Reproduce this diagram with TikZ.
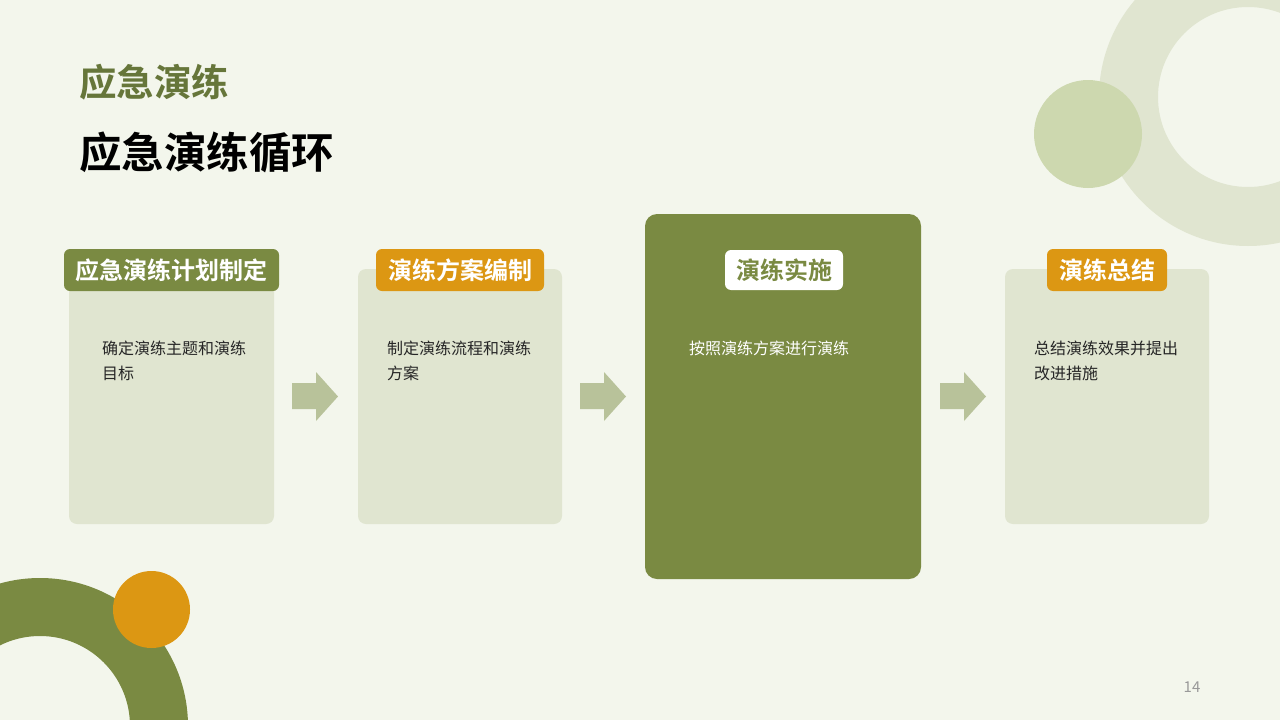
\documentclass[tikz,border=0pt]{standalone}
\usepackage{fontspec}
\setmainfont{Noto Sans CJK SC}[BoldFont={Noto Sans CJK SC Bold}]
\definecolor{bgc}{HTML}{F3F6EC}
\definecolor{cardc}{HTML}{E0E5D0}
\definecolor{olive}{HTML}{7A8A42}
\definecolor{orng}{HTML}{DC9713}
\definecolor{arrc}{HTML}{B8C29A}
\definecolor{dotc}{HTML}{CDD8AF}
\definecolor{titc}{HTML}{66763A}
\definecolor{txtc}{HTML}{262626}
\tikzset{
  card/.style={fill=cardc, rounded corners=8pt},
  tabbox/.style={rounded corners=6pt},
  tabtext/.style={font=\fontsize{24}{27}\selectfont\bfseries, text=white, inner sep=0pt},
  bodytext/.style={font=\fontsize{16}{25}\selectfont, text=txtc, align=left, anchor=north west, inner sep=0pt},
  arrowshape/.style={fill=arrc}
}
\begin{document}
\begin{tikzpicture}[x=1pt,y=-1pt]
\fill[bgc] (0,0) rectangle (1280,720);
\useasboundingbox (0,0) rectangle (1280,720);
% decorations
\begin{scope}
\clip (0,0) rectangle (1280,720);
\fill[cardc, even odd rule] (1248,97) circle[radius=149] (1248,97) circle[radius=90];
\fill[dotc] (1088,134) circle[radius=54];
\fill[olive, even odd rule] (40,726) circle[radius=148] (40,726) circle[radius=90];
\fill[orng] (151.5,609.5) circle[radius=38.5];
\end{scope}
% titles
\node[anchor=west, inner sep=0pt, text=titc, font=\fontsize{37.5}{40}\selectfont\bfseries] (sub) at (79,82) {应急演练};
\node[anchor=west, inner sep=0pt, text=black, font=\fontsize{42.5}{46}\selectfont\bfseries] (title) at (79,152) {应急演练循环};
% cards
\fill[card] (69,269) rectangle (274,524);
\fill[card] (358,269) rectangle (562,524);
\fill[olive, rounded corners=12pt] (645,214) rectangle (921,579);
\fill[card] (1005,269) rectangle (1209,524);
% tabs
\fill[olive, tabbox] (64,249) rectangle (279,291);
\node[tabtext] (t1) at (171.5,270) {应急演练计划制定};
\fill[orng, tabbox] (376,249) rectangle (544,291);
\node[tabtext] (t2) at (460,270) {演练方案编制};
\fill[white, tabbox] (725,250) rectangle (843,290);
\node[tabtext, text=olive] (t3) at (784,270) {演练实施};
\fill[orng, tabbox] (1047,249) rectangle (1167,291);
\node[tabtext] (t4) at (1107,270) {演练总结};
% body texts
\node[bodytext] (b1) at (102,341) {确定演练主题和演练\\目标};
\node[bodytext] (b2) at (387,341) {制定演练流程和演练\\方案};
\node[bodytext, text=white] (b3) at (689,341) {按照演练方案进行演练};
\node[bodytext] (b4) at (1034,341) {总结演练效果并提出\\改进措施};
% arrows
\foreach \x in {292,580,940}{
  \fill[arrowshape] (\x,383) -- (\x+24,383) -- (\x+24,372) -- (\x+46,396.5) -- (\x+24,421) -- (\x+24,409) -- (\x,409) -- cycle;
}
% page number
\node[anchor=center, inner sep=0pt, text=gray!80, font=\fontsize{15}{17}\selectfont] (pn) at (1192,687) {14};
\end{tikzpicture}
\end{document}
